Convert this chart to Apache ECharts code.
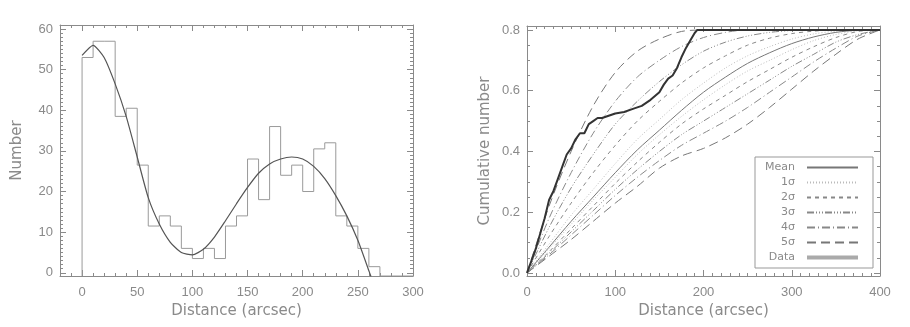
<!DOCTYPE html>
<html>
<head>
<meta charset="utf-8">
<script src="https://cdn.jsdelivr.net/npm/echarts/dist/echarts.min.js"></script>
<style>
  html, body { margin: 0; padding: 0; background: #fff; }
  #app { width: 910px; height: 327px; }
</style>
</head>
<body>
<div id="app"></div>
<script>
// left panel: radial histogram + fit
const binStarts = [0, 10, 20, 30, 40, 50, 60, 70, 80, 90, 100, 110, 120, 130, 140, 150, 160, 170, 180, 190, 200, 210, 220, 230, 240, 250, 260];
const binCounts = [53, 57, 57, 38.5, 40.5, 26.5, 11.5, 14, 11.5, 6, 3.5, 6, 3.5, 11.5, 14, 28, 18, 36, 24, 26.5, 20, 30.5, 32, 14, 11.5, 6, 1.5];
const fitX = [0, 10, 20, 30, 40, 50, 60, 70, 80, 90, 100, 110, 120, 130, 140, 150, 160, 170, 180, 190, 200, 210, 220, 230, 240, 250, 260, 262];
const fitY = [53.5, 56, 53, 46.5, 38.5, 28.5, 18.5, 12, 7.5, 5, 4.4, 5.8, 8.8, 12.8, 17, 21, 24.5, 26.8, 28, 28.5, 28, 26.2, 23.2, 19, 14, 8, 0.5, -1];
const leftXTicks = [0, 50, 100, 150, 200, 250, 300];
const leftYTicks = [0, 10, 20, 30, 40, 50, 60];

// right panel: cumulative distributions
const modelX = [0, 25, 50, 75, 100, 125, 150, 175, 200, 225, 250, 275, 300, 325, 350, 375, 400];
const meanY = [0, .085, .17, .25, .33, .405, .47, .535, .595, .645, .69, .725, .755, .777, .792, .799, .8];
const up1Y = [0, .095, .19, .275, .36, .44, .505, .57, .625, .675, .715, .745, .77, .787, .796, .8, .8];
const up2Y = [0, .12, .23, .33, .42, .50, .565, .625, .675, .715, .75, .773, .788, .796, .8, .8, .8];
const up3Y = [0, .15, .28, .39, .49, .565, .63, .685, .73, .76, .78, .792, .798, .8, .8, .8, .8];
const up4Y = [0, .18, .33, .46, .565, .645, .70, .745, .775, .792, .8, .8, .8, .8, .8, .8, .8];
const up5Y = [0, .22, .40, .55, .66, .73, .77, .795, .8, .8, .8, .8, .8, .8, .8, .8, .8];
const lo1Y = [0, .08, .16, .24, .315, .39, .455, .515, .57, .62, .665, .70, .735, .765, .785, .797, .8];
const lo2Y = [0, .07, .145, .22, .295, .365, .43, .49, .54, .585, .63, .67, .71, .745, .775, .795, .8];
const lo3Y = [0, .065, .135, .205, .275, .34, .40, .455, .50, .545, .59, .635, .68, .72, .76, .785, .8];
const lo4Y = [0, .06, .125, .19, .255, .315, .37, .42, .46, .50, .545, .595, .645, .695, .74, .78, .8];
const lo5Y = [0, .055, .11, .17, .23, .285, .345, .385, .41, .445, .49, .545, .605, .665, .72, .77, .8];
const dataX = [0, 5, 10, 15, 20, 25, 30, 35, 40, 45, 50, 55, 60, 65, 70, 75, 80, 85, 90, 100, 110, 120, 130, 140, 150, 155, 160, 165, 170, 175, 180, 185, 190, 193, 400];
const dataY = [0, .04, .08, .13, .18, .24, .27, .31, .35, .39, .41, .44, .46, .46, .49, .50, .51, .51, .515, .525, .53, .54, .55, .57, .595, .62, .64, .65, .675, .71, .74, .765, .79, .8, .8];
const rightXTicks = [0, 100, 200, 300, 400];
const rightYTicks = [0, 0.2, 0.4, 0.6, 0.8];

const frameColor = '#8a8a8a';
const textColor = '#8a8a8a';

function range(a, b, step) {
  const out = [];
  for (let v = a; v <= b + 1e-9; v += step) out.push(+v.toFixed(4));
  return out;
}
function pairs(xs, ys) {
  return xs.map((x, i) => [x, ys[i]]);
}

// builds the 4 sides of an IDL style box (majors + minors, ticks inside)
function boxAxes(dim, grid, min, max, majors, minors, fmt, name, nameGap) {
  const main = dim === 'x' ? 'bottom' : 'left';
  const other = dim === 'x' ? 'top' : 'right';
  const base = {
    type: 'value',
    gridIndex: grid,
    min: min,
    max: max,
    splitLine: { show: false }
  };
  const line = { show: true, onZero: false, lineStyle: { color: frameColor, width: 1 } };
  const noLine = { show: false, onZero: false };
  return [
    Object.assign({}, base, {
      position: main,
      axisLine: line,
      axisTick: { show: true, inside: true, length: 6, customValues: majors, lineStyle: { color: frameColor } },
      axisLabel: {
        customValues: majors,
        formatter: fmt,
        color: textColor,
        fontFamily: 'Liberation Sans',
        fontSize: 13,
        margin: dim === 'x' ? 10 : 7
      },
      name: name,
      nameLocation: 'middle',
      nameGap: nameGap,
      nameTextStyle: { color: textColor, fontFamily: 'DejaVu Sans', fontSize: 15 }
    }),
    Object.assign({}, base, {
      position: other,
      axisLine: line,
      axisTick: { show: true, inside: true, length: 6, customValues: majors, lineStyle: { color: frameColor } },
      axisLabel: { show: false }
    }),
    Object.assign({}, base, {
      position: main,
      axisLine: noLine,
      axisTick: { show: true, inside: true, length: 3, customValues: minors, lineStyle: { color: frameColor } },
      axisLabel: { show: false }
    }),
    Object.assign({}, base, {
      position: other,
      axisLine: noLine,
      axisTick: { show: true, inside: true, length: 3, customValues: minors, lineStyle: { color: frameColor } },
      axisLabel: { show: false }
    })
  ];
}

const xAxes = boxAxes('x', 0, -20, 300, leftXTicks, range(-10, 300, 10), v => String(v), 'Distance (arcsec)', 27)
  .concat(boxAxes('x', 1, 0, 400, rightXTicks, range(0, 400, 10), v => String(v), 'Distance (arcsec)', 27));
const yAxes = boxAxes('y', 0, -0.8, 61, leftYTicks, range(0, 61, 1), v => String(v), 'Number', 35)
  .concat(boxAxes('y', 1, -0.01, 0.813, rightYTicks, range(0, 0.8, 0.05), v => v.toFixed(1), 'Cumulative number', 34));

// histogram outline drawn as a step line: start and end on the axis floor
const histPts = [[binStarts[0], -0.8]]
  .concat(pairs(binStarts, binCounts))
  .concat([[270, -0.8], [300, -0.8]]);

function model(name, ys, color, type, width) {
  return {
    name: name,
    type: 'line',
    xAxisIndex: 4,
    yAxisIndex: 4,
    data: pairs(modelX, ys),
    symbol: 'none',
    smooth: 0.3,
    itemStyle: { color: color },
    lineStyle: { color: color, width: width || 1, type: type },
    silent: true,
    z: 2
  };
}

const dash1 = [1, 2];
const dash2 = [4, 4];
const dash3 = [7, 2, 1, 2, 1, 2, 1, 2];
const dash4 = [8, 3, 1, 3];
const dash5 = [9, 5];

const option = {
  animation: false,
  grid: [
    { left: 60, top: 25, width: 353, height: 251 },
    { left: 527, top: 26, width: 353, height: 250 }
  ],
  xAxis: xAxes,
  yAxis: yAxes,
  legend: {
    left: 755,
    top: 157,
    orient: 'vertical',
    align: 'right',
    itemWidth: 51,
    itemHeight: 10,
    itemGap: 4,
    padding: [5, 13, 5, 5],
    borderColor: '#999',
    borderWidth: 1,
    selectedMode: false,
    itemStyle: { opacity: 0 },
    textStyle: {
      color: textColor,
      fontFamily: 'DejaVu Sans',
      fontSize: 11,
      rich: {
        t: { width: 35, lineHeight: 10, align: 'right', padding: [0, 7, 0, 0], color: textColor, fontFamily: 'DejaVu Sans', fontSize: 11 }
      }
    },
    formatter: n => '{t|' + n + '}',
    data: [
      { name: 'Mean' },
      { name: '1σ' },
      { name: '2σ' },
      { name: '3σ' },
      { name: '4σ' },
      { name: '5σ' },
      { name: 'Data', lineStyle: { color: '#aaa', width: 4, type: 'solid' } }
    ]
  },
  series: [
    {
      name: 'hist',
      type: 'line',
      step: 'end',
      xAxisIndex: 0,
      yAxisIndex: 0,
      data: histPts,
      symbol: 'none',
      lineStyle: { color: '#9a9a9a', width: 1 },
      silent: true
    },
    {
      name: 'fit',
      type: 'line',
      xAxisIndex: 0,
      yAxisIndex: 0,
      data: pairs(fitX, fitY),
      symbol: 'none',
      smooth: 0.2,
      lineStyle: { color: '#555', width: 1.2 },
      silent: true,
      clip: true
    },
    model('5σ', up5Y, '#777', dash5),
    model('5σ', lo5Y, '#777', dash5),
    model('4σ', up4Y, '#888', dash4),
    model('4σ', lo4Y, '#888', dash4),
    model('3σ', up3Y, '#888', dash3),
    model('3σ', lo3Y, '#888', dash3),
    model('2σ', up2Y, '#888', dash2),
    model('2σ', lo2Y, '#888', dash2),
    model('1σ', up1Y, '#bbb', dash1),
    model('1σ', lo1Y, '#bbb', dash1),
    model('Mean', meanY, '#777', 'solid'),
    {
      name: 'Data',
      type: 'line',
      xAxisIndex: 4,
      yAxisIndex: 4,
      data: pairs(dataX, dataY),
      symbol: 'none',
      itemStyle: { color: '#333' },
      lineStyle: { color: '#333', width: 2 },
      silent: true,
      z: 3
    }
  ]
};

const myChart = echarts.init(document.getElementById('app'), null, { renderer: 'canvas' });
myChart.setOption(option);
</script>
</body>
</html>
